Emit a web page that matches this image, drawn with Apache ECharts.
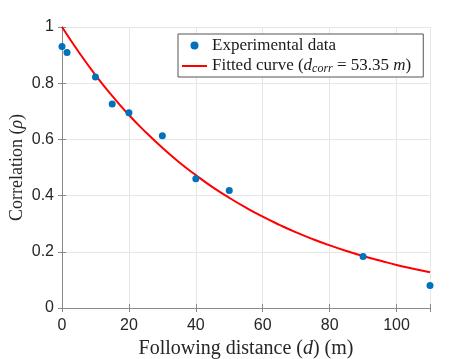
<!DOCTYPE html>
<html>
<head>
<meta charset="utf-8">
<script src="https://cdn.jsdelivr.net/npm/echarts@6/dist/echarts.min.js"></script>
<style>
  html, body { margin: 0; padding: 0; background: #fff; }
  #chart { width: 474px; height: 359px; }
</style>
</head>
<body>
<div id="chart"></div>
<script>
// measured points
const expDist = [0, 1.5, 10, 15, 20, 30, 40, 50, 90, 110];
const expCorr = [0.931, 0.909, 0.822, 0.726, 0.695, 0.613, 0.46, 0.418, 0.183, 0.08];
// fitted curve
const fitDist = [0, 5, 10, 15, 20, 25, 30, 35, 40, 45, 50, 55, 60, 65, 70, 75, 80, 85, 90, 95, 100, 105, 110];
const fitCorr = [1.0, 0.911, 0.829, 0.755, 0.687, 0.626, 0.57, 0.519, 0.473, 0.43, 0.392, 0.357, 0.325,
  0.296, 0.269, 0.245, 0.223, 0.203, 0.185, 0.169, 0.153, 0.14, 0.127];
const xTicks = [0, 20, 40, 60, 80, 100];

const serif = "Liberation Serif";
const sans = "Liberation Sans";
const boxColor = "#8a8a8a";
const textColor = "#262626";

const myChart = echarts.init(document.getElementById("chart"));

const axisCommon = {
  axisLine: { show: true, lineStyle: { color: boxColor, width: 1 } },
  axisTick: { show: true, inside: true, length: 4, lineStyle: { color: boxColor } },
};

myChart.setOption({
  animation: false,
  grid: { left: 62, right: 44, top: 27, bottom: 51, outerBoundsMode: "none", containLabel: false },
  legend: {
    orient: "vertical",
    left: 178,
    top: 34,
    padding: [3, 12, 2, 3],
    itemGap: 3,
    itemWidth: 25,
    itemHeight: 8,
    backgroundColor: "#fff",
    borderColor: "#555",
    borderWidth: 1,
    borderRadius: 0,
    data: [
      { name: "Experimental data" },
      { name: "Fitted curve", itemStyle: { opacity: 0 } },
    ],
    formatter: function (name) {
      if (name === "Fitted curve") {
        return "{n|Fitted curve (}{i|d}{s|corr}{n| = 53.35 }{i|m}{n|)}";
      }
      return "{n|" + name + "}";
    },
    textStyle: {
      color: "#1a1a1a",
      fontFamily: serif,
      fontSize: 17,
      rich: {
        n: { fontFamily: serif, fontSize: 17, color: "#1a1a1a", lineHeight: 18 },
        i: { fontFamily: serif, fontSize: 17, fontStyle: "italic", color: "#1a1a1a", lineHeight: 18 },
        s: { fontFamily: serif, fontSize: 12, fontStyle: "italic", color: "#1a1a1a", lineHeight: 18, verticalAlign: "bottom", padding: [6, 0, 0, 0] },
      },
    },
  },
  xAxis: [
    {
      type: "value",
      min: 0,
      max: 110,
      interval: 20,
      name: "{n|Following distance (}{i|d}{n|) (m)}",
      nameLocation: "middle",
      nameGap: 14,
      nameTextStyle: {
        fontFamily: serif, fontSize: 20, color: textColor,
        rich: {
          n: { fontFamily: serif, fontSize: 20, color: textColor },
          i: { fontFamily: serif, fontSize: 20, color: textColor, fontStyle: "italic" },
        },
      },
      ...axisCommon,
      axisLabel: {
        margin: 10,
        fontFamily: sans,
        fontSize: 16,
        color: textColor,
        formatter: function (v) { return xTicks.indexOf(v) >= 0 ? String(v) : ""; },
      },
      splitLine: { show: true, lineStyle: { color: "#e6e6e6", width: 1 } },
    },
    {
      type: "value",
      position: "top",
      min: 0,
      max: 110,
      interval: 20,
      ...axisCommon,
      axisLabel: { show: false },
      splitLine: { show: false },
    },
  ],
  yAxis: [
    {
      type: "value",
      min: 0,
      max: 1,
      interval: 0.2,
      name: "{n|Correlation (}{i|\u03c1}{n|)}",
      nameLocation: "middle",
      nameGap: 36,
      nameMoveOverlap: false,
      nameTextStyle: {
        fontFamily: serif, fontSize: 18, color: textColor,
        rich: {
          n: { fontFamily: serif, fontSize: 18, color: textColor },
          i: { fontFamily: serif, fontSize: 18, color: textColor, fontStyle: "italic" },
        },
      },
      ...axisCommon,
      axisLabel: {
        margin: 8,
        fontFamily: sans,
        fontSize: 16,
        color: textColor,
        formatter: function (v) { return String(Math.round(v * 10) / 10); },
      },
      splitLine: { show: true, lineStyle: { color: "#e6e6e6", width: 1 } },
    },
    {
      type: "value",
      position: "right",
      min: 0,
      max: 1,
      interval: 0.2,
      ...axisCommon,
      axisLabel: { show: false },
      splitLine: { show: false },
    },
  ],
  series: [
    {
      name: "Fitted curve",
      type: "line",
      data: fitDist.map((d, i) => [d, fitCorr[i]]),
      smooth: true,
      symbol: "none",
      lineStyle: { color: "#ff0000", width: 2 },
      itemStyle: { color: "#ff0000" },
      z: 2,
    },
    {
      name: "Experimental data",
      type: "scatter",
      data: expDist.map((d, i) => [d, expCorr[i]]),
      symbolSize: 7,
      itemStyle: { color: "#0072bd", opacity: 1 },
      z: 3,
    },
  ],
});
window.addEventListener("resize", function () {
  myChart.resize();
});
</script>
</body>
</html>
